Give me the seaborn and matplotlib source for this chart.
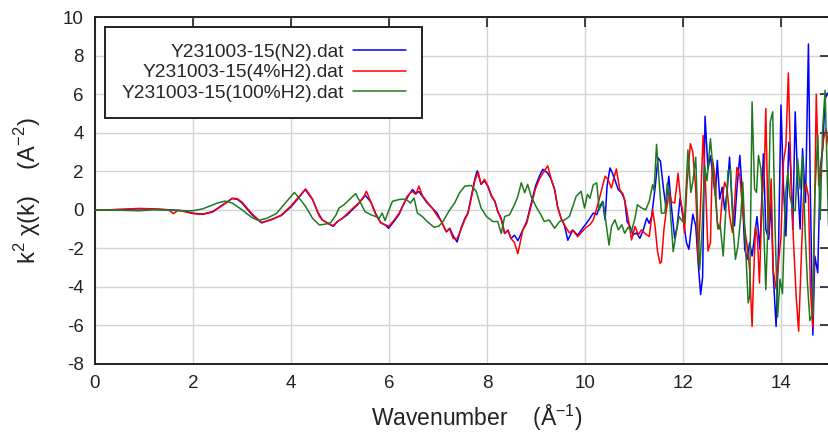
import numpy as np
import pandas as pd
import matplotlib
matplotlib.use("Agg")
import matplotlib.pyplot as plt
import seaborn as sns

labels = ["Y231003-15(N2).dat", "Y231003-15(4%H2).dat", "Y231003-15(100%H2).dat"]
colors = ["#0000ff", "#ff0000", "#1f7a1f"]

k_n2 = [0, 0.3, 0.6, 0.9, 1.2, 1.5, 1.8, 2.0, 2.2, 2.4, 2.6, 2.8, 2.9, 3.0, 3.2, 3.4, 3.6, 3.8, 4.0, 4.15,
        4.29, 4.44, 4.54, 4.64, 4.78, 4.86, 4.95, 5.05, 5.15, 5.25, 5.36, 5.46, 5.52, 5.63, 5.73, 5.83, 5.93,
        5.99, 6.1, 6.2, 6.31, 6.4, 6.48, 6.55, 6.61, 6.68, 6.78, 6.88, 6.98, 7.07, 7.17, 7.24, 7.31, 7.39,
        7.48, 7.55, 7.61, 7.68, 7.75, 7.8, 7.88, 7.95, 8.02, 8.09, 8.16, 8.22, 8.29, 8.36, 8.43, 8.49, 8.56,
        8.63, 8.73, 8.81, 8.87, 8.94, 8.99, 9.07, 9.14, 9.24, 9.31, 9.38, 9.44, 9.51, 9.58, 9.65, 9.75, 9.85,
        9.95, 10.03, 10.1, 10.17, 10.24, 10.3, 10.36, 10.41, 10.45, 10.51, 10.56, 10.61, 10.68, 10.75, 10.81,
        10.86, 10.92, 10.98, 11.05, 11.12, 11.19, 11.26, 11.31, 11.36, 11.43, 11.49, 11.54, 11.6, 11.65,
        11.71, 11.77, 11.83, 11.88, 11.94, 12.0, 12.07, 12.12, 12.2, 12.26, 12.31, 12.36, 12.4, 12.45,
        12.51, 12.56, 12.61, 12.66, 12.7, 12.75, 12.8, 12.85, 12.9, 12.95, 13.0, 13.05, 13.1, 13.16, 13.2,
        13.26, 13.31, 13.36, 13.41, 13.46, 13.51, 13.57, 13.64, 13.69, 13.75, 13.8, 13.84, 13.9, 13.95,
        14.0, 14.05, 14.1, 14.16, 14.2, 14.24, 14.29, 14.34, 14.39, 14.44, 14.5, 14.56, 14.6, 14.65, 14.69,
        14.75, 14.8, 14.85, 14.9, 14.97]
chi_n2 = [0, 0.0, 0.02, 0.05, 0.03, 0.0, -0.05, -0.18, -0.22, -0.1, 0.25, 0.58, 0.55, 0.35, -0.25, -0.68,
          -0.5, -0.3, 0.15, 0.6, 1.05, 0.53, -0.09, -0.53, -0.74, -0.86, -0.61, -0.44, -0.26, 0.0, 0.26, 0.6,
          0.74, 0.4, -0.2, -0.67, -0.8, -0.96, -0.61, -0.26, 0.35, 0.75, 1.05, 0.85, 0.95, 0.7, 0.35, 0.09,
          -0.17, -0.61, -1.14, -0.96, -1.35, -1.67, -0.88, -0.44, -0.17, 0.7, 1.58, 2.02, 1.32, 1.5, 1.2, 0.7,
          0.44, -0.09, -0.44, -1.23, -1.05, -1.49, -1.32, -1.6, -1.05, -0.61, 0.0, 0.7, 1.23, 1.75, 2.1, 1.9,
          1.58, 1.05, 0.17, -0.44, -0.79, -1.58, -1.05, -1.32, -0.96, -0.7, -0.43, -0.17, -0.25, 0.17, 0.43,
          -0.52, 1.22, 2.17, 1.9, 1.55, 1.04, 0.87, 0.52, -0.61, -0.87, -1.3, -1.2, -1.48, -1.04, -0.43, -0.7,
          -0.35, 1.13, 2.7, 2.52, 1.13, 0.17, 1.74, 0.0, -1.48, -0.87, 0.6, -0.4, -1.7, -2.05, -0.23, -0.83,
          -2.75, -4.4, -3.5, 4.85, 2.1, 2.8, 1.77, 0.73, 2.56, 0.56, 1.17, 0.0, 0.9, 2.73, 0.38, -0.83, 1.08,
          2.82, 1.25, -2.05, -2.57, -1.7, -2.4, -1.36, -0.35, -2.05, 2.9, -1.0, -1.53, 0.38, -3.27, -6.05,
          -1.88, 5.43, 1.25, -1.36, 3.51, 2.0, -1.0, 5.08, 1.43, -1.0, 3.17, 0.38, 8.6, 0.73, -6.5, -2.4,
          -3.27, 2.12, 3.2, 5.77, 6.1]

k_4h2 = [0, 0.3, 0.6, 0.9, 1.2, 1.5, 1.6, 1.7, 1.8, 2.0, 2.2, 2.4, 2.6, 2.8, 2.9, 3.0, 3.2, 3.4, 3.6, 3.8,
         4.0, 4.15, 4.3, 4.44, 4.58, 4.64, 4.78, 4.86, 4.95, 5.05, 5.15, 5.25, 5.36, 5.46, 5.54, 5.63, 5.73,
         5.83, 5.93, 6.0, 6.1, 6.2, 6.31, 6.37, 6.47, 6.55, 6.61, 6.68, 6.78, 6.88, 6.98, 7.07, 7.17, 7.24,
         7.31, 7.39, 7.48, 7.55, 7.61, 7.68, 7.75, 7.82, 7.88, 7.95, 8.02, 8.09, 8.16, 8.22, 8.29, 8.36, 8.43,
         8.49, 8.56, 8.63, 8.73, 8.81, 8.87, 8.94, 8.99, 9.07, 9.14, 9.24, 9.31, 9.38, 9.44, 9.51, 9.58, 9.68,
         9.75, 9.85, 9.95, 10.03, 10.1, 10.17, 10.27, 10.34, 10.41, 10.47, 10.54, 10.59, 10.64, 10.71, 10.78,
         10.85, 10.92, 10.95, 11.02, 11.09, 11.15, 11.22, 11.31, 11.38, 11.43, 11.48, 11.53, 11.56, 11.61,
         11.66, 11.72, 11.77, 11.83, 11.9, 11.95, 12.0, 12.03, 12.08, 12.15, 12.2, 12.26, 12.31, 12.35,
         12.41, 12.46, 12.51, 12.56, 12.6, 12.65, 12.7, 12.75, 12.8, 12.85, 12.9, 12.95, 13.01, 13.05, 13.1,
         13.16, 13.21, 13.26, 13.31, 13.36, 13.41, 13.44, 13.48, 13.52, 13.56, 13.61, 13.66, 13.69, 13.74,
         13.8, 13.84, 13.9, 13.95, 14.0, 14.05, 14.1, 14.15, 14.2, 14.25, 14.31, 14.36, 14.41, 14.46, 14.51,
         14.56, 14.6, 14.65, 14.72, 14.77, 14.82, 14.87, 14.92, 14.97]
chi_4h2 = [0, 0.0, 0.03, 0.07, 0.05, 0.0, -0.2, -0.02, -0.08, -0.2, -0.24, -0.12, 0.22, 0.6, 0.58, 0.4,
           -0.2, -0.66, -0.52, -0.28, 0.2, 0.65, 1.08, 0.55, -0.35, -0.53, -0.74, -0.82, -0.6, -0.44, -0.2,
           0.05, 0.3, 0.55, 0.96, 0.4, -0.26, -0.67, -0.79, -0.85, -0.55, -0.2, 0.35, 0.7, 0.96, 0.8, 1.23,
           0.75, 0.4, 0.1, -0.3, -0.61, -1.14, -1.0, -1.49, -1.5, -0.95, -0.5, -0.2, 0.6, 1.5, 1.95, 1.32,
           1.58, 1.23, 0.75, 0.44, -0.09, -0.5, -1.23, -1.1, -1.49, -1.7, -2.28, -1.05, -0.7, -0.1, 0.6, 1.1,
           1.6, 1.9, 2.28, 1.58, 1.05, 0.17, -0.44, -0.79, -1.2, -1.05, -1.4, -1.1, -0.9, -0.78, -0.52, 0.35,
           1.04, 1.74, 1.57, 1.13, 1.65, 2.12, 1.04, 0.8, 0.0, -1.04, -1.57, -0.87, -1.3, -1.04, -1.22, -1.39,
           0.0, -0.87, -2.17, -2.78, -2.7, -1.04, 0.0, 0.87, 0.4, 0.35, 1.9, 0.52, -0.2, -1.18, 1.25, 3.43,
           3.0, 1.08, -2.66, -0.3, 3.86, 1.25, -2.14, -1.7, 2.64, 1.77, -0.66, -1.0, 0.56, 1.43, 1.08, -0.31,
           -1.18, 0.21, 2.2, 1.77, 0.2, -1.0, -1.88, -3.1, -6.05, -3.5, -0.87, -1.5, -3.8, 0.38, 2.12, 5.25,
           -1.36, 1.6, -3.1, -4.1, -2.75, -1.36, 2.47, 3.34, 7.1, 2.12, -1.4, -4.5, -6.3, -2.75, 0.73, 1.34,
           0.7, -4.14, -6.1, 6.0, 1.25, 2.3, 3.69, 4.2, 3.34]

k_100h2 = [0, 0.3, 0.6, 0.9, 1.2, 1.5, 1.8, 2.0, 2.2, 2.4, 2.5, 2.65, 2.8, 3.0, 3.2, 3.33, 3.5, 3.7, 3.85,
           4.07, 4.2, 4.3, 4.44, 4.58, 4.71, 4.81, 4.92, 4.98, 5.08, 5.22, 5.32, 5.42, 5.51, 5.63, 5.73, 5.8,
           5.86, 5.92, 5.97, 6.07, 6.2, 6.34, 6.44, 6.51, 6.58, 6.68, 6.78, 6.92, 7.02, 7.1, 7.24, 7.34, 7.44,
           7.55, 7.68, 7.78, 7.88, 7.99, 8.12, 8.22, 8.29, 8.36, 8.46, 8.56, 8.63, 8.7, 8.77, 8.83, 8.9, 9.0,
           9.1, 9.17, 9.27, 9.38, 9.48, 9.58, 9.68, 9.82, 9.92, 9.99, 10.05, 10.1, 10.17, 10.24, 10.29, 10.37,
           10.44, 10.49, 10.54, 10.61, 10.68, 10.75, 10.81, 10.88, 10.95, 11.02, 11.07, 11.15, 11.24, 11.31,
           11.38, 11.41, 11.46, 11.51, 11.56, 11.63, 11.68, 11.73, 11.8, 11.86, 11.92, 11.99, 12.03, 12.1,
           12.16, 12.2, 12.26, 12.31, 12.34, 12.39, 12.44, 12.49, 12.56, 12.61, 12.67, 12.71, 12.76, 12.82,
           12.86, 12.92, 12.97, 13.02, 13.07, 13.12, 13.18, 13.22, 13.27, 13.33, 13.36, 13.41, 13.46, 13.5,
           13.54, 13.59, 13.64, 13.69, 13.74, 13.78, 13.83, 13.88, 13.93, 13.98, 14.03, 14.09, 14.14, 14.18,
           14.24, 14.29, 14.34, 14.39, 14.44, 14.49, 14.54, 14.59, 14.65, 14.69, 14.75, 14.8, 14.85, 14.9,
           14.97]
chi_100h2 = [0, -0.01, -0.03, -0.05, 0.0, -0.02, -0.05, -0.05, 0.05, 0.25, 0.35, 0.45, 0.35, 0.0, -0.4,
             -0.55, -0.45, -0.2, 0.25, 0.9, 0.5, 0.17, -0.44, -0.79, -0.74, -0.67, -0.26, 0.09, 0.26, 0.6,
             0.84, 0.35, -0.09, -0.26, -0.35, -0.44, -0.17, -0.56, -0.2, 0.44, 0.53, 0.56, 0.35, 0.61, -0.17,
             -0.35, -0.61, -0.91, -0.85, -0.61, 0.0, 0.35, 0.88, 1.23, 1.26, 0.96, 0.09, -0.35, -0.61, -0.61,
             -1.23, -0.35, -0.26, 0.26, 0.7, 1.4, 0.88, 1.32, 0.7, 0.17, -0.26, -0.61, -0.53, -0.96, -0.61,
             -0.53, -0.35, 0.7, 0.96, 0.09, 0.8, 0.6, 1.3, 1.39, 0.0, 0.43, -0.87, -1.83, -0.87, -0.52, -1.04,
             -0.78, -1.22, -0.9, -1.13, -0.43, 0.26, 0.1, 0.0, 0.43, 1.3, 1.0, 3.39, 1.57, -0.17, -0.17, 1.39,
             0.35, -2.17, -1.22, -0.35, -0.6, -0.66, 3.1, 0.9, 1.43, 2.73, -1.36, -3.1, -1.0, 2.3, 1.5, 3.69,
             2.12, 0.38, -1.0, -0.83, -2.4, -0.66, 2.03, 2.12, -0.83, -2.57, -1.9, -0.31, 1.43, -1.53, -4.83,
             -4.5, 5.6, 1.08, 0.9, 2.82, 2.12, -0.35, -4.14, -0.3, 4.55, 5.08, -1.0, -5.56, -3.6, -4.35, 0.73,
             1.95, 0.73, 0.03, -0.05, 2.64, 1.08, 2.82, -1.0, -3.8, -5.74, -5.4, 0.73, 3.86, -0.5, 4.2, 6.2,
             -0.83]

x_ticks = [0, 2, 4, 6, 8, 10, 12, 14]
y_ticks = [-8, -6, -4, -2, 0, 2, 4, 6, 8, 10]

sns.set_theme(style="white")
plt.rcParams["font.family"] = ["Liberation Sans", "DejaVu Sans"]
plt.rcParams["mathtext.fontset"] = "custom"
plt.rcParams["mathtext.rm"] = "Liberation Sans"
plt.rcParams["axes.unicode_minus"] = False

fig = plt.figure(figsize=(8.29, 4.33), dpi=100)
ax = fig.add_axes([95 / 829, 69 / 433, 735 / 829, 347 / 433])

series = [(k_n2, chi_n2), (k_4h2, chi_4h2), (k_100h2, chi_100h2)]
for (kk, cc), lab, col in zip(series, labels, colors):
    df = pd.DataFrame({"k": kk, "chi": cc})
    sns.lineplot(data=df, x="k", y="chi", ax=ax, color=col, linewidth=1.1,
                 label=lab, estimator=None, sort=False, zorder=3)

ax.set_xlim(0, 15)
ax.set_ylim(-8, 10)
ax.set_xticks(x_ticks)
ax.set_yticks(y_ticks)
ax.grid(True, color="#d3d3d3", linewidth=1.0, zorder=0)
ax.set_axisbelow(True)
for s in ax.spines.values():
    s.set_color("#222222")
    s.set_linewidth(1.4)
ax.tick_params(direction="in", length=7, width=1.2, color="#222222",
               top=True, right=True, labelsize=13.5, labelcolor="#222222")
ax.tick_params(axis="x", pad=8)
ax.tick_params(axis="y", pad=8)

ax.set_xlabel("Wavenumber    (Å$^{\\mathregular{-1}}$)", fontsize=16.5, color="#222222")
ax.xaxis.set_label_coords((477 - 95) / 735, -0.112)
ax.set_ylabel("k$^{\\mathregular{2}}$ χ(k)    (A$^{\\mathregular{-2}}$)", fontsize=17,
              color="#222222")
ax.yaxis.set_label_coords(-52 / 735, 0.5)

leg = ax.legend(loc="upper left", bbox_to_anchor=(10 / 735, 1 - 10 / 347), borderaxespad=0,
                markerfirst=False, fontsize=13.8, handlelength=2.75, labelspacing=0.17,
                fancybox=False, framealpha=1, edgecolor="#222222", borderpad=0.85,
                handletextpad=0.5)
leg.get_frame().set_linewidth(1.4)

fig.savefig("out.png", dpi=100)
